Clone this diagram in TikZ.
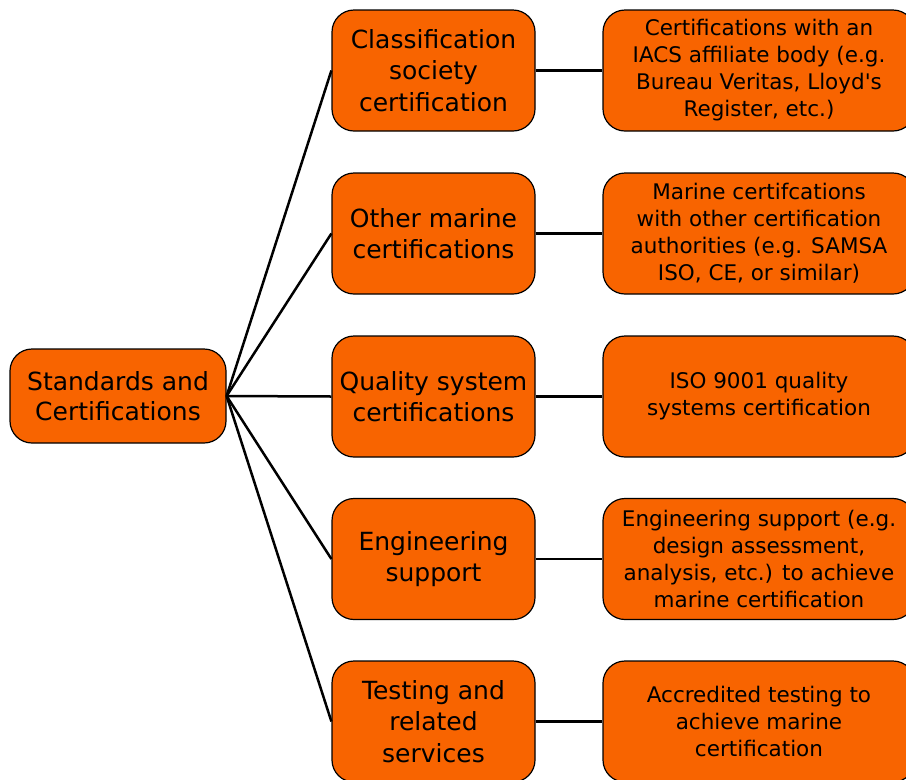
\documentclass[tikz,border=0pt]{standalone}
\usepackage{fontspec}
\setmainfont{DejaVu Sans}
\definecolor{boxorange}{RGB}{248,100,0}
\begin{document}
\begin{tikzpicture}[x=1pt,y=-1pt,
 box/.style={draw=black, line width=1.2pt, fill=boxorange, rounded corners=22pt, align=center, inner sep=0pt},
 rootbox/.style={box, minimum width=216pt, minimum height=94pt, font=\fontsize{25}{30}\selectfont},
 midbox/.style={box, minimum width=203pt, minimum height=121pt, font=\fontsize{25}{31.5}\selectfont},
 leafbox/.style={box, minimum width=312pt, minimum height=121pt, font=\fontsize{21.5}{27}\selectfont},
 link/.style={line width=2.5pt, draw=black}]
\useasboundingbox (0,0) rectangle (906,780);
\clip (0,0) rectangle (906,780);

\node[rootbox] (root) at (118,396) {Standards and\\Certifications};

\node[midbox] (m1) at (433.5,70.5) {Classification\\society\\certification};
\node[midbox] (m2) at (433.5,233.5) {Other marine\\certifications};
\node[midbox] (m3) at (433.5,396.5) {Quality system\\certifications};
\node[midbox] (m4) at (433.5,559) {Engineering\\support};
\node[midbox] (m5) at (433.5,721.5) {Testing and\\related\\services};

\node[leafbox] (l1) at (759,70.5) {Certifications with an\\IACS affiliate body (e.g.\\Bureau Veritas, Lloyd\textquotesingle s\\Register, etc.)};
\node[leafbox] (l2) at (759,233.5) {Marine certifcations\\with other certification\\authorities (e.g. SAMSA\\ISO, CE, or similar)};
\node[leafbox] (l3) at (759,396.5) {ISO 9001 quality\\systems certification};
\node[leafbox] (l4) at (759,559) {Engineering support (e.g.\\design assessment,\\analysis, etc.) to achieve\\marine certification};
\node[leafbox] (l5) at (759,721.5) {Accredited testing to\\achieve marine\\certification};

\foreach \i in {1,...,5}{
  \draw[link] (root.east) -- (m\i.west);
  \draw[link] (m\i.east) -- (l\i.west);
}
\end{tikzpicture}
\end{document}
